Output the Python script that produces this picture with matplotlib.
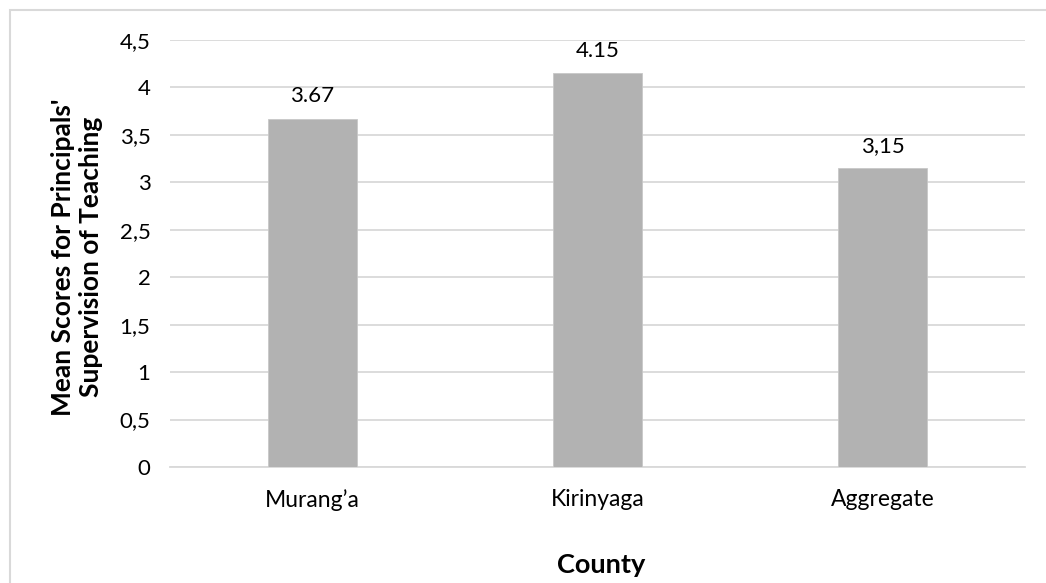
import matplotlib.pyplot as plt
from matplotlib.patches import Rectangle

counties = ["Murang\u2019a", "Kirinyaga", "Aggregate"]
scores = [3.67, 4.15, 3.15]
score_labels = ["3.67", "4.15", "3,15"]
y_ticks = [0, 0.5, 1, 1.5, 2, 2.5, 3, 3.5, 4, 4.5]
y_tick_labels = ["0", "0,5", "1", "1,5", "2", "2,5", "3", "3,5", "4", "4,5"]

plt.rcParams['font.family'] = ['Lato', 'DejaVu Sans']

fig = plt.figure(figsize=(10.46, 5.83), dpi=100)
# outer frame (cut off at right and bottom in the original)
fig.patches.append(Rectangle((10 / 1046, -10 / 583), 1100 / 1046, 583 / 583,
                             transform=fig.transFigure, fill=False,
                             edgecolor='#D9D9D9', linewidth=1.5))
ax = fig.add_axes([170 / 1046, 1 - 467 / 583, 855 / 1046, 427 / 583])

x = range(len(counties))
ax.bar(x, scores, width=0.31, color='#B2B2B2', edgecolor='#C8C8C8',
       linewidth=0.6, zorder=3)
for xi, v, lab in zip(x, scores, score_labels):
    ax.annotate(lab, (xi, v), xytext=(0, 9), textcoords='offset points',
                ha='center', va='bottom', fontsize=16)

ax.set_xlim(-0.5, 2.5)
ax.set_ylim(0, 4.5)
ax.set_yticks(y_ticks)
ax.set_yticklabels(y_tick_labels, fontsize=16)
ax.set_xticks(list(x))
ax.set_xticklabels(counties, fontsize=16.5)
ax.tick_params(axis='y', length=0, pad=14)
ax.tick_params(axis='x', length=0, pad=16)
ax.grid(axis='y', color='#D9D9D9', linewidth=1.3, zorder=0)
for s in ['top', 'right', 'left']:
    ax.spines[s].set_visible(False)
ax.spines['bottom'].set_color('#D9D9D9')
ax.spines['bottom'].set_linewidth(1.3)

fig.text(77 / 1046, 1 - 257 / 583,
         "Mean Scores for Principals'\nSupervision of Teaching",
         rotation=90, ha='center', va='center', fontsize=19,
         fontweight='bold', multialignment='center')
fig.text(601 / 1046, 1 - 565 / 583, "County", ha='center', va='center',
         fontsize=19.5, fontweight='bold')

fig.savefig("out.png", dpi=100)
